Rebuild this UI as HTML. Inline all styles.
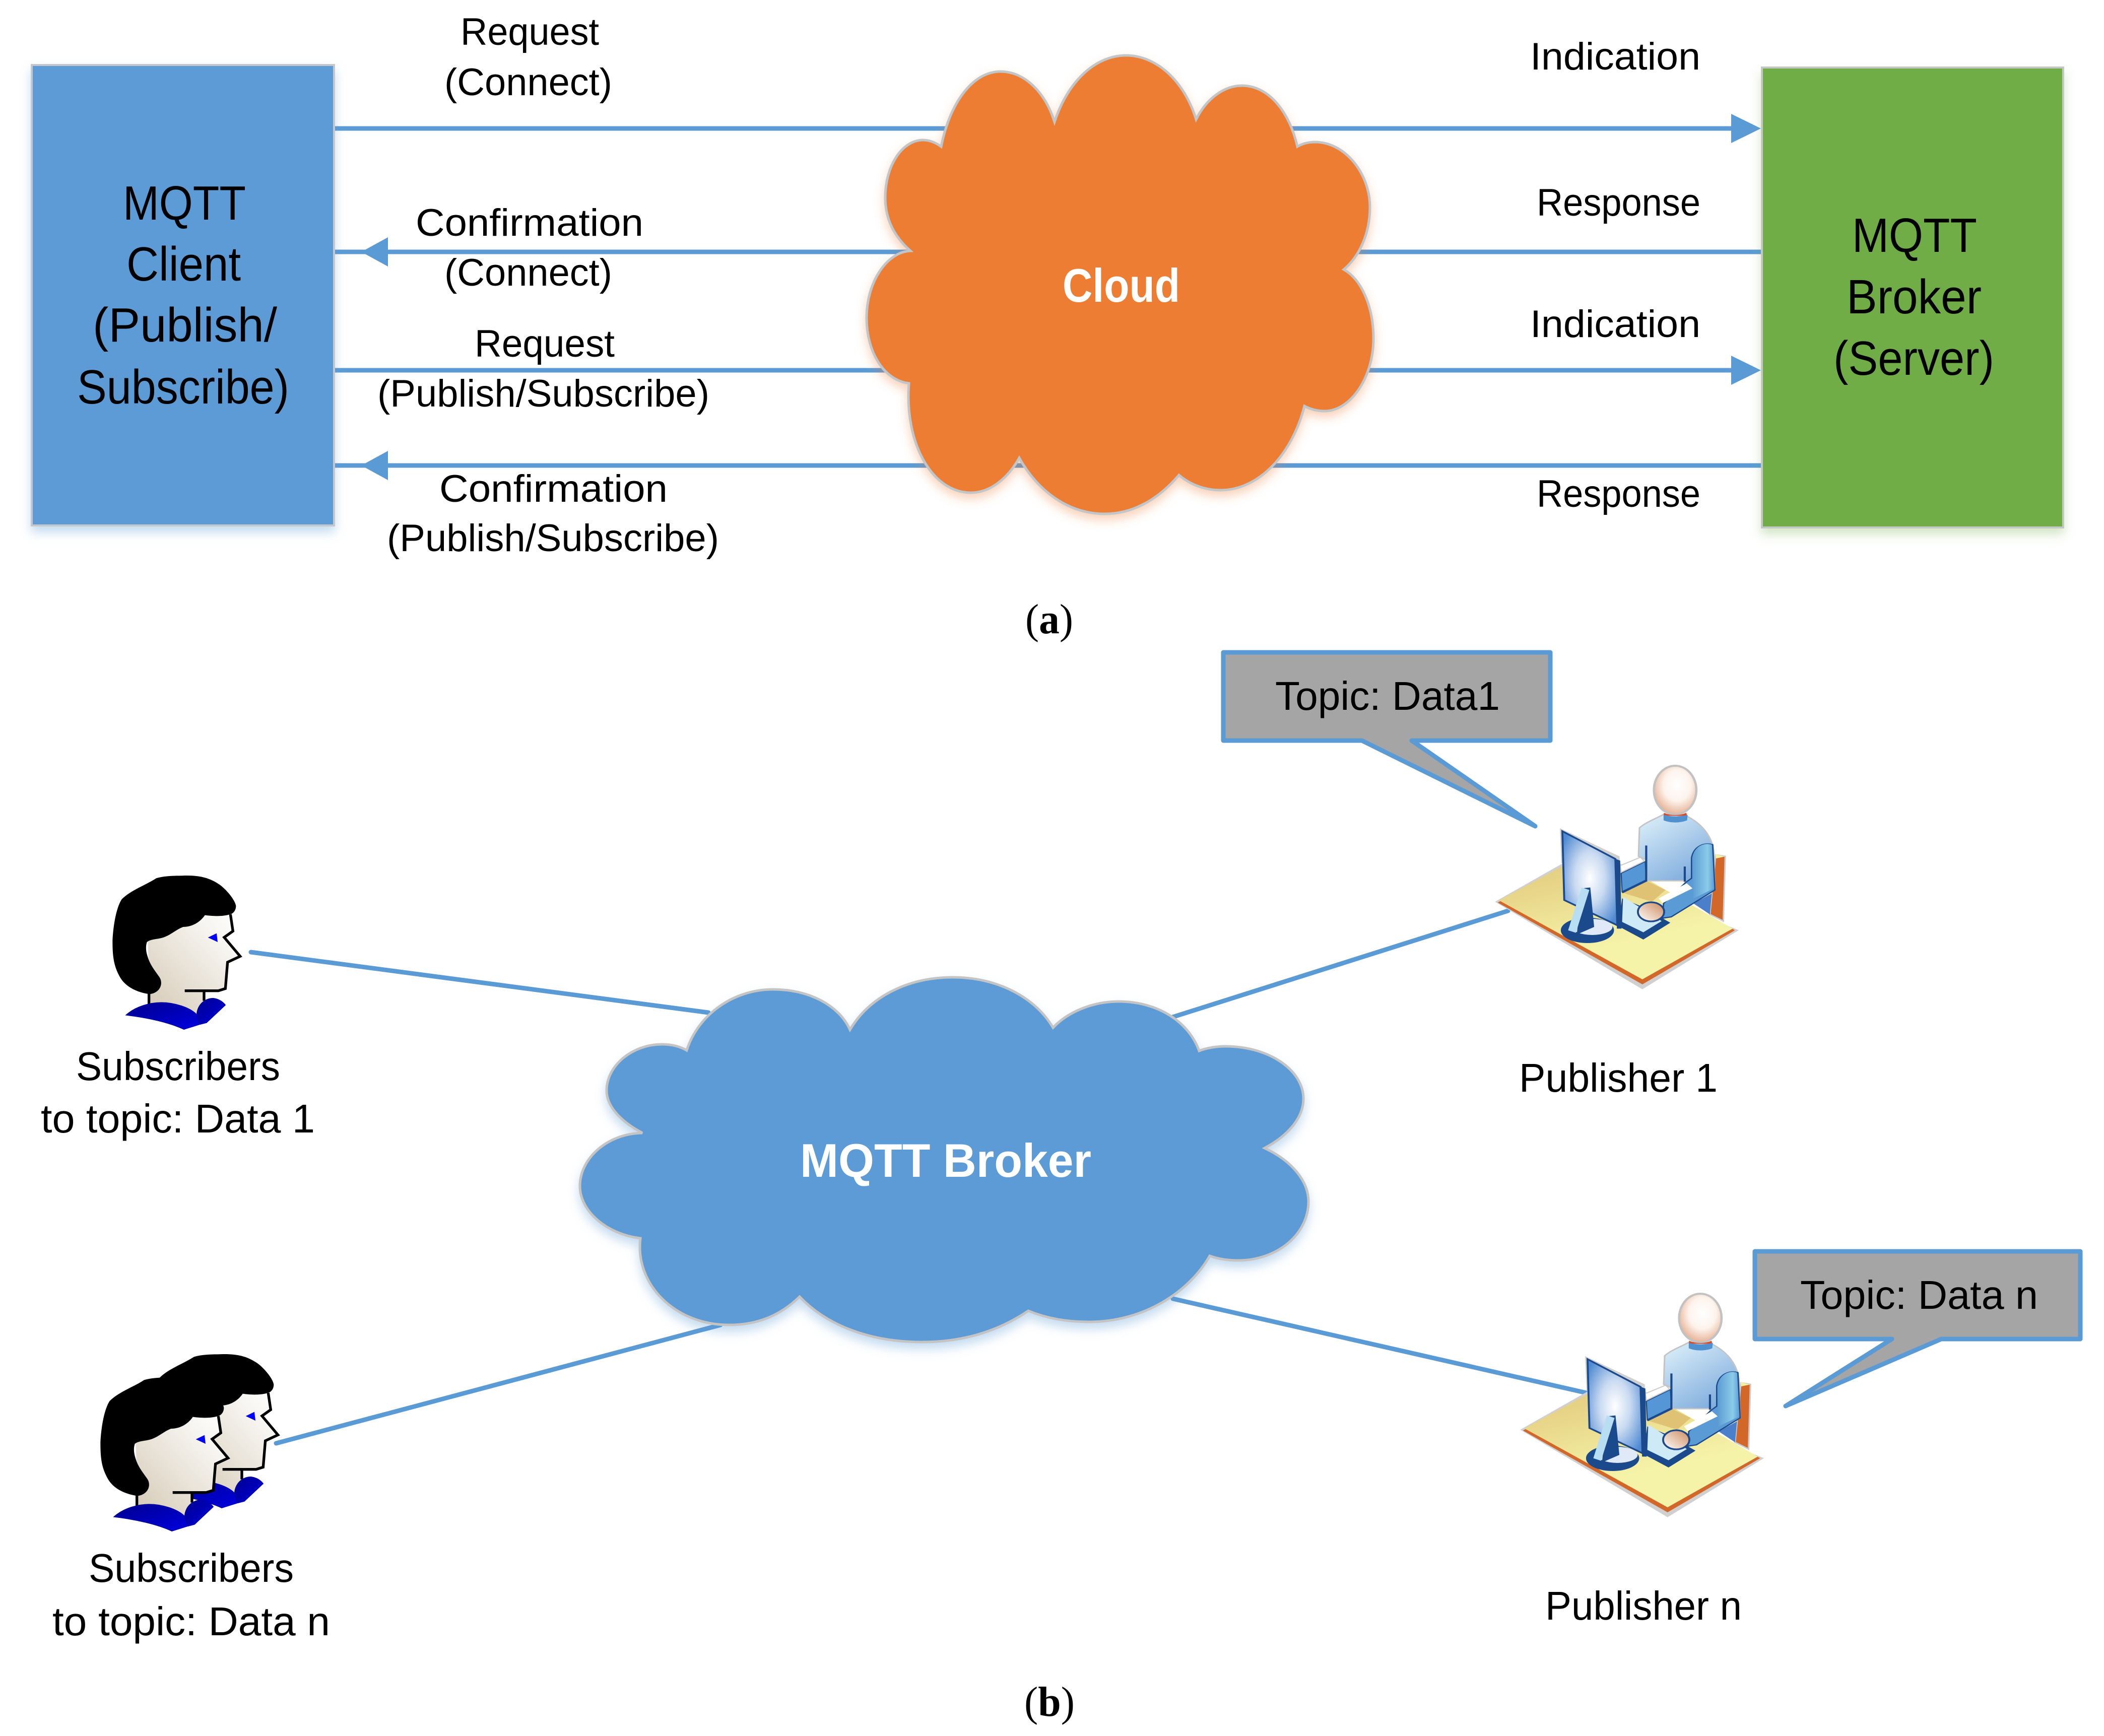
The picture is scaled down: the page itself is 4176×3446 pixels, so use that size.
<!DOCTYPE html>
<html lang="en">
<head>
<meta charset="utf-8">
<title>MQTT diagram</title>
<style>
html,body{margin:0;padding:0;background:#fff;}
svg{display:block;}
text{font-family:"Liberation Sans",sans-serif;fill:#000;}
.l{font-size:76px;}
.b{font-size:96px;}
.m{font-size:80px;}
.c{font-size:94px;font-weight:bold;fill:#fff;}
.s{font-family:"Liberation Serif",serif;font-size:84px;}
.w{stroke:#5B9BD5;stroke-width:9;fill:none;}
</style>
</head>
<body>
<svg xmlns="http://www.w3.org/2000/svg" width="4176" height="3446" viewBox="0 0 4176 3446">
<defs>
<filter id="sb" x="-10%" y="-10%" width="120%" height="120%"><feDropShadow dx="0" dy="12" stdDeviation="10" flood-color="#5B9BD5" flood-opacity=".35"/></filter>
<filter id="sg" x="-10%" y="-10%" width="120%" height="120%"><feDropShadow dx="0" dy="12" stdDeviation="10" flood-color="#70AD47" flood-opacity=".3"/></filter>
<filter id="so" x="-10%" y="-10%" width="120%" height="120%"><feDropShadow dx="0" dy="10" stdDeviation="10" flood-color="#ED7D31" flood-opacity=".35"/></filter>
<linearGradient id="face" x1="0" y1="1" x2="1" y2="0"><stop offset="0" stop-color="#d5c9b5"/><stop offset=".75" stop-color="#f7f5f1"/><stop offset="1" stop-color="#fff"/></linearGradient>
<linearGradient id="col" x1="0" y1="0" x2="1" y2="1"><stop offset="0" stop-color="#00008c"/><stop offset="1" stop-color="#0000e0"/></linearGradient>
<radialGradient id="head" cx=".55" cy=".4" r=".65"><stop offset="0" stop-color="#fff"/><stop offset=".5" stop-color="#fdf3ec"/><stop offset="1" stop-color="#e3a888"/></radialGradient>
<linearGradient id="body" x1="0" y1="0" x2=".6" y2="1"><stop offset="0" stop-color="#e0f2fa"/><stop offset="1" stop-color="#7aa9dc"/></linearGradient>
<linearGradient id="arm" x1="0" y1="0" x2="1" y2="0"><stop offset="0" stop-color="#5b9bd5"/><stop offset=".7" stop-color="#8ccbe9"/><stop offset="1" stop-color="#5b9bd5"/></linearGradient>
<linearGradient id="desk" x1="0" y1="0" x2=".4" y2="1"><stop offset="0" stop-color="#dfc274"/><stop offset=".8" stop-color="#f5f3a8"/></linearGradient>
<radialGradient id="scr" cx=".5" cy=".5" r=".62"><stop offset="0" stop-color="#fff"/><stop offset=".45" stop-color="#c9daf1"/><stop offset="1" stop-color="#4f8ad2"/></radialGradient>
<linearGradient id="hand" x1="0" y1="1" x2="1" y2="0"><stop offset="0" stop-color="#fff"/><stop offset="1" stop-color="#cc8a5c"/></linearGradient>

<g id="person" transform="translate(150,1700) scale(.33333)">
<path d="M430,500 L770,340 L925,345 L935,445 L888,482 L980,595 L905,632 L892,785 L850,800 L765,805 L765,870 L715,935 L440,885 L440,800 Z" fill="url(#face)"/>
<path d="M922,345 L937,445 L885,482 L980,595 L905,630 L892,787 L850,800 L650,800" fill="none" stroke="#000" stroke-width="16"/>
<path d="M765,805 L765,860 M437,810 L437,878" fill="none" stroke="#000" stroke-width="16"/>
<path d="M620,115 C720,110 790,120 860,170 C900,200 950,260 955,295 C955,320 940,340 920,345 C870,360 810,355 770,350 C740,395 690,420 640,420 C600,435 570,465 530,480 C490,495 450,490 425,510 C415,540 420,570 430,600 C445,650 480,690 500,720 C525,760 500,815 440,820 C370,810 300,780 265,720 C225,650 220,590 220,500 C225,400 245,300 275,255 C330,200 420,170 480,130 C520,118 570,115 620,115 Z" fill="#000"/>
<path d="M300,945 C360,890 450,870 510,870 C590,870 680,900 720,940 L740,1000 L645,1030 C560,990 430,960 300,945 Z" fill="url(#col)" stroke="#0000a0" stroke-width="4"/>
<path d="M722,935 C730,880 770,845 820,845 C860,850 880,870 892,885 L780,990 L742,1000 Z" fill="url(#col)" stroke="#0000a0" stroke-width="4"/>
<polygon points="788,483 840,458 846,510" fill="#0000ff"/>
</g>

<g id="pub" transform="translate(2900,1500) scale(.38270,.33333)">
<polygon points="1320,590 1370,600 1360,985 1290,945" fill="#d2672a" stroke="#ccc" stroke-width="8"/>
<polygon points="1318,585 1365,602 1322,612" fill="#f5f0a0"/>
<polygon points="185,870 530,645 1430,1040 940,1385" fill="#d0d0d0" stroke="#d0d0d0" stroke-width="10"/>
<polygon points="190,875 530,655 700,560 1420,1040 940,1362" fill="#d2672a"/>
<polygon points="197,862 530,655 700,560 1408,1030 940,1332" fill="url(#desk)"/>
<polygon points="1205,880 1300,820 1290,945" fill="#4c7fc9"/>
<polygon points="830,700 955,630 960,740 835,810" fill="#5597d6" stroke="#1b4a8c" stroke-width="6"/>
<polygon points="825,655 930,605 950,628 830,695" fill="#fff" stroke="#ccc" stroke-width="6"/>
<polygon points="835,815 960,745 1060,800 990,870" fill="#dfc274"/>
<path d="M925,430 C960,395 1010,375 1050,350 L1170,360 C1240,400 1300,470 1310,570 L1315,790 L1160,780 L1160,745 L965,745 L960,620 L920,600 Z" fill="url(#body)" stroke="#c4c4c4" stroke-width="8"/>
<path d="M960,535 L960,745 L835,815 M1160,660 L1160,750" fill="none" stroke="#1b4a8c" stroke-width="11"/>
<ellipse cx="1110" cy="205" rx="110" ry="145" fill="url(#head)" stroke="#c2c2c2" stroke-width="12"/>
<path d="M1052,340 C1085,358 1135,358 1168,340 L1172,358 L1050,358 Z" fill="#dc4a28"/>
<path d="M1050,352 C1085,365 1135,365 1175,352 L1172,385 C1135,402 1085,402 1050,385 Z" fill="#4f90cf"/>
<path d="M1195,610 C1205,540 1260,515 1305,530 L1316,800 L1090,960 L1045,968 L1050,880 L1165,755 L1195,730 Z" fill="#5b9bd5" stroke="#1b4a8c" stroke-width="7"/>
<path d="M1198,610 C1208,540 1260,515 1300,530 L1313,790 L1205,850 L1200,760 Z" fill="url(#arm)"/>
<polygon points="1025,850 1170,760 1200,790 1045,878" fill="#fff"/>
<polygon points="835,850 940,900 1085,995 945,1095 815,1015" fill="#1b4a8c"/>
<polygon points="840,840 1040,985 945,1052 835,990" fill="#cfeaf7"/>
<ellipse cx="985" cy="930" rx="68" ry="57" fill="url(#hand)" stroke="#1b4a8c" stroke-width="10"/>
<polygon points="512,432 822,600 825,672 812,650 520,640" fill="#d0d0d0"/>
<polygon points="525,450 800,615 810,1010 535,860" fill="url(#scr)" stroke="#1b4a8c" stroke-width="10"/>
<polygon points="795,612 825,625 832,1030 808,1030" fill="#1b4a8c"/>
<ellipse cx="655" cy="1040" rx="138" ry="76" fill="#1b4a8c"/>
<ellipse cx="680" cy="1020" rx="105" ry="48" fill="#dfe9f7"/>
<polygon points="670,785 690,1020 600,1065 625,790" fill="#1b4a8c"/>
<polygon points="625,785 665,800 595,1055 555,1040" fill="#b8def3"/>
</g>
</defs>

<rect width="4176" height="3446" fill="#fff"/>

<!-- (a) lines -->
<g stroke="#5B9BD5" stroke-width="9">
<line x1="663" y1="255" x2="3440" y2="255"/>
<line x1="663" y1="500" x2="3497" y2="500"/>
<line x1="663" y1="735" x2="3440" y2="735"/>
<line x1="663" y1="924" x2="3497" y2="924"/>
</g>
<g fill="#5B9BD5">
<polygon points="717,500 770,471 770,529"/>
<polygon points="717,924 770,895 770,953"/>
<polygon points="3495,255 3436,226 3436,284"/>
<polygon points="3495,735 3436,706 3436,764"/>
</g>

<rect x="63" y="129" width="600" height="914" fill="#5B9BD5" stroke="#c4c8cc" stroke-width="4" filter="url(#sb)"/>
<rect x="3497" y="134" width="598" height="913" fill="#70AD47" stroke="#c4c8c4" stroke-width="4" filter="url(#sg)"/>

<path d="M2093,242 C2120,160 2175,110 2235,110 C2295,110 2350,160 2374,237 C2395,195 2430,170 2465,170 C2520,170 2560,225 2575,291 C2585,285 2597,282 2610,282 C2670,282 2719,345 2719,411 C2719,465 2697,510 2667,535 C2703,555 2726,610 2726,672 C2726,750 2680,816 2629,816 C2613,816 2600,812 2589,806 C2565,900 2500,973 2422,973 C2392,973 2362,962 2340,943 C2300,990 2250,1020 2193,1020 C2120,1020 2060,975 2023,909 C2000,950 1965,978 1927,978 C1850,978 1795,880 1804,761 C1755,755 1720,700 1720,631 C1720,560 1760,500 1807,498 C1775,470 1757,435 1757,392 C1757,330 1790,278 1832,278 C1845,278 1857,283 1868,291 C1885,205 1930,142 1986,142 C2035,142 2075,185 2093,242 Z" fill="#ED7D31" stroke="#c2c6c8" stroke-width="5" filter="url(#so)"/>

<!-- (a) text -->
<text class="l" x="914" y="89" textLength="275" lengthAdjust="spacingAndGlyphs">Request</text>
<text class="l" x="882" y="189" textLength="333" lengthAdjust="spacingAndGlyphs">(Connect)</text>
<text class="l" x="825" y="468" textLength="452" lengthAdjust="spacingAndGlyphs">Confirmation</text>
<text class="l" x="882" y="567" textLength="333" lengthAdjust="spacingAndGlyphs">(Connect)</text>
<text class="l" x="942" y="708" textLength="278" lengthAdjust="spacingAndGlyphs">Request</text>
<text class="l" x="749" y="807" textLength="659" lengthAdjust="spacingAndGlyphs">(Publish/Subscribe)</text>
<text class="l" x="872" y="996" textLength="453" lengthAdjust="spacingAndGlyphs">Confirmation</text>
<text class="l" x="768" y="1094" textLength="659" lengthAdjust="spacingAndGlyphs">(Publish/Subscribe)</text>

<text class="l" x="3037" y="138" textLength="338" lengthAdjust="spacingAndGlyphs">Indication</text>
<text class="l" x="3050" y="428" textLength="325" lengthAdjust="spacingAndGlyphs">Response</text>
<text class="l" x="3037" y="669" textLength="338" lengthAdjust="spacingAndGlyphs">Indication</text>
<text class="l" x="3050" y="1006" textLength="325" lengthAdjust="spacingAndGlyphs">Response</text>

<text class="b" x="244" y="436" textLength="244" lengthAdjust="spacingAndGlyphs">MQTT</text>
<text class="b" x="251" y="557" textLength="227" lengthAdjust="spacingAndGlyphs">Client</text>
<text class="b" x="184" y="678" textLength="366" lengthAdjust="spacingAndGlyphs">(Publish/</text>
<text class="b" x="153" y="801" textLength="421" lengthAdjust="spacingAndGlyphs">Subscribe)</text>

<text class="b" x="3676" y="500" textLength="248" lengthAdjust="spacingAndGlyphs">MQTT</text>
<text class="b" x="3665" y="622" textLength="268" lengthAdjust="spacingAndGlyphs">Broker</text>
<text class="b" x="3639" y="744" textLength="319" lengthAdjust="spacingAndGlyphs">(Server)</text>

<text class="c" x="2109" y="599" textLength="233" lengthAdjust="spacingAndGlyphs">Cloud</text>

<text class="s" x="2035" y="1257" textLength="95" lengthAdjust="spacingAndGlyphs">(<tspan font-weight="bold">a</tspan>)</text>

<!-- (b) lines -->
<g class="w" stroke-linecap="round">
<line x1="498" y1="1890" x2="1406" y2="2010"/>
<line x1="548" y1="2865" x2="1430" y2="2630"/>
<line x1="2324" y1="2020" x2="2993" y2="1808"/>
<line x1="2328" y1="2578" x2="3149" y2="2765"/>
</g>

<path d="M1687,2044 C1725,1980 1800,1940 1891,1940 C1980,1940 2055,1980 2090,2040 C2120,2008 2170,1988 2220,1988 C2300,1988 2360,2030 2380,2086 C2395,2080 2415,2077 2432,2077 C2520,2077 2587,2125 2587,2181 C2587,2220 2555,2255 2510,2279 C2565,2305 2597,2345 2597,2385 C2597,2450 2535,2502 2457,2502 C2437,2502 2418,2499 2401,2493 C2360,2565 2270,2624 2161,2624 C2115,2624 2075,2616 2041,2602 C1985,2640 1915,2664 1830,2664 C1725,2664 1640,2630 1587,2574 C1550,2610 1505,2630 1447,2630 C1340,2630 1260,2550 1271,2458 C1205,2450 1151,2405 1151,2354 C1151,2300 1205,2250 1275,2249 C1230,2225 1204,2195 1204,2165 C1204,2115 1255,2073 1314,2073 C1332,2073 1349,2077 1363,2085 C1385,2015 1455,1964 1534,1964 C1605,1964 1665,1995 1687,2044 Z" fill="#5B9BD5" stroke="#c4c4c4" stroke-width="5" filter="url(#sb)"/>
<text class="c" x="1588" y="2336" textLength="578" lengthAdjust="spacingAndGlyphs">MQTT Broker</text>

<!-- Callouts -->
<path d="M2428,1295 H3077 V1470 H2802 L3047,1640 L2703,1470 H2428 Z" fill="#A5A5A5" stroke="#5B9BD5" stroke-width="9" stroke-linejoin="round"/>
<text class="m" x="2531" y="1409" textLength="446" lengthAdjust="spacingAndGlyphs">Topic: Data1</text>
<path d="M3483,2484 H4129 V2658 H3853 L3544,2791 L3755,2658 H3483 Z" fill="#A5A5A5" stroke="#5B9BD5" stroke-width="9" stroke-linejoin="round"/>
<text class="m" x="3573" y="2598" textLength="472" lengthAdjust="spacingAndGlyphs">Topic: Data n</text>

<!-- Publishers -->
<use href="#pub"/>
<use href="#pub" transform="translate(50,1048)"/>
<text class="m" x="3015" y="2167" textLength="394" lengthAdjust="spacingAndGlyphs">Publisher 1</text>
<text class="m" x="3067" y="3215" textLength="390" lengthAdjust="spacingAndGlyphs">Publisher n</text>

<!-- Subscribers -->
<use href="#person"/>
<use href="#person" transform="translate(75,950)"/>
<use href="#person" transform="translate(-24,996)"/>
<text class="m" x="151" y="2144" textLength="405" lengthAdjust="spacingAndGlyphs">Subscribers</text>
<text class="m" x="81" y="2248" textLength="544" lengthAdjust="spacingAndGlyphs">to topic: Data 1</text>
<text class="m" x="176" y="3140" textLength="407" lengthAdjust="spacingAndGlyphs">Subscribers</text>
<text class="m" x="104" y="3246" textLength="551" lengthAdjust="spacingAndGlyphs">to topic: Data n</text>

<text class="s" x="2033" y="3406" textLength="100" lengthAdjust="spacingAndGlyphs">(<tspan font-weight="bold">b</tspan>)</text>
</svg>
</body>
</html>
